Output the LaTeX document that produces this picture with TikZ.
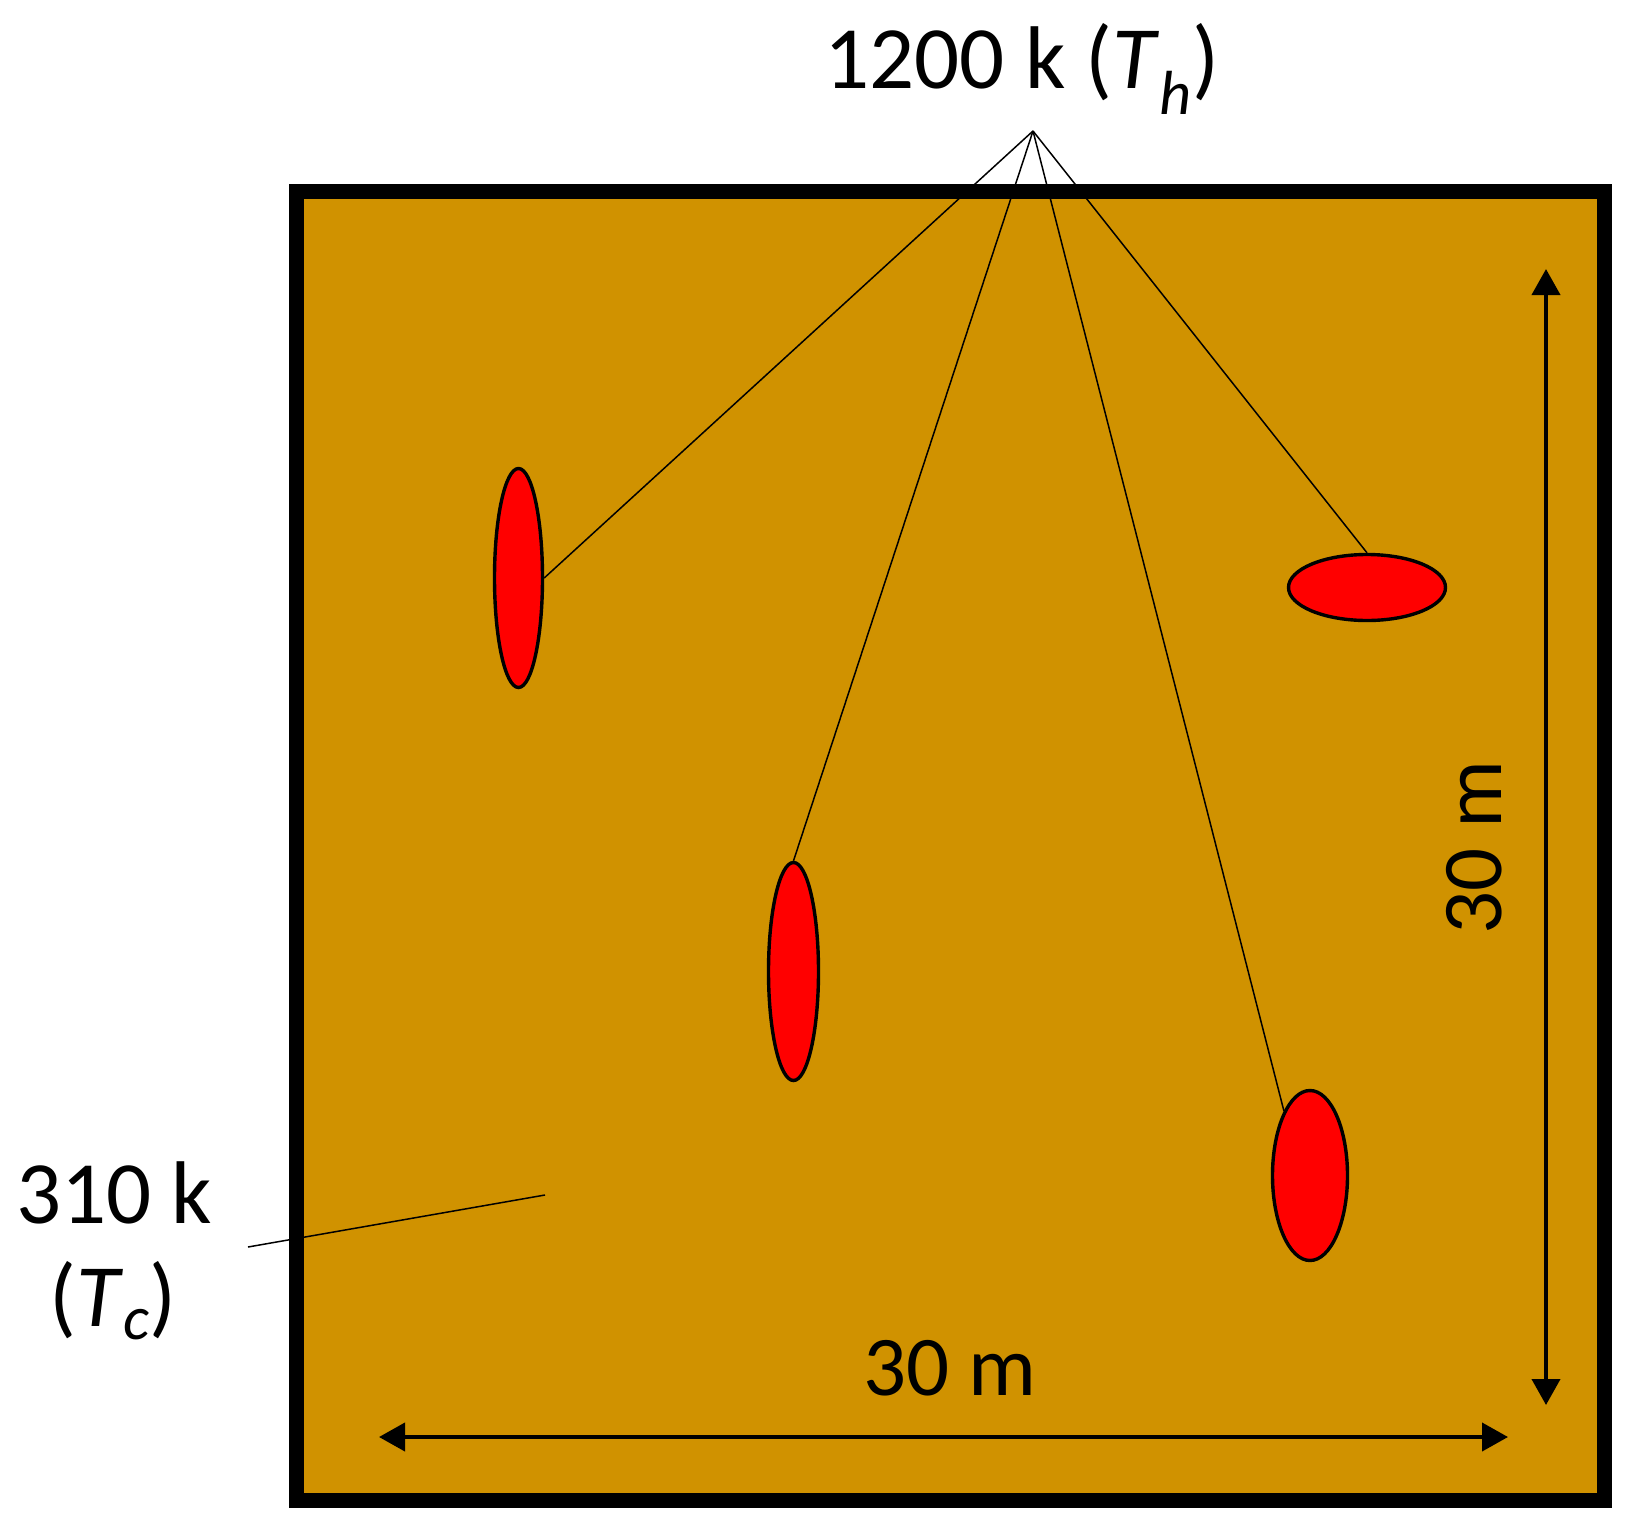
\documentclass[tikz,border=0pt]{standalone}
\usepackage{fontspec}
\setmainfont{Carlito}
\usetikzlibrary{shapes.geometric,arrows.meta}
\definecolor{soil}{RGB}{208,146,0}
\definecolor{hot}{RGB}{255,0,0}
\tikzset{
  hotspot/.style={ellipse, draw=black, fill=hot, line width=1.7pt, inner sep=0pt},
  leader/.style={draw=black, line width=0.75pt},
  dimarrow/.style={line width=2pt, {Triangle[length=13pt,width=14pt]}-{Triangle[length=13pt,width=14pt]}},
  bigtxt/.style={font=\fontsize{44.5}{54}\selectfont, inner sep=0pt, anchor=base},
  midtxt/.style={font=\fontsize{42.5}{51}\selectfont, inner sep=0pt, anchor=base}
}
\begin{document}
\begin{tikzpicture}[x=0.5pt,y=-0.5pt]
\useasboundingbox (0,0) rectangle (1634,1526);
% domain
\draw[line width=7.5pt, fill=soil] (296,191.5) rectangle (1604,1500);
% hot spots
\node[hotspot, minimum width=24pt, minimum height=109.5pt] (e1) at (518.5,578) {};
\node[hotspot, minimum width=78.5pt, minimum height=33pt] (e2) at (1367,587.5) {};
\node[hotspot, minimum width=25pt, minimum height=109pt] (e3) at (793.5,971.5) {};
\node[hotspot, minimum width=37.5pt, minimum height=85pt] (e4) at (1310,1175.5) {};
% labels
\node[bigtxt] (th) at (1022,88) {1200 k (\textit{T}\textsubscript{\textit{h}})};
\node[bigtxt] (tc1) at (114,1223) {310 k};
\node[bigtxt] (tc2) at (113,1326) {(\textit{T}\textsubscript{\textit{c}})};
\node[midtxt] (wx) at (950,1395) {30 m};
\node[midtxt, rotate=90] (wy) at (1501,847.5) {30 m};
% leader lines
\coordinate (apex) at (1033,131);
\draw[leader] (apex) -- (e1.east);
\draw[leader] (apex) -- (e3.north);
\draw[leader] (apex) -- (e4.112);
\draw[leader] (apex) -- (e2.north);
\coordinate (tcstart) at (248,1247);
\coordinate (tcend) at (545,1195);
\draw[leader] (tcstart) -- (tcend);
% dimension arrows
\coordinate (hl) at (379,1437);
\coordinate (hr) at (1508,1437);
\coordinate (vt) at (1546,269);
\coordinate (vb) at (1546,1405);
\draw[dimarrow] (hl) -- (hr);
\draw[dimarrow] (vt) -- (vb);
\end{tikzpicture}
\end{document}
